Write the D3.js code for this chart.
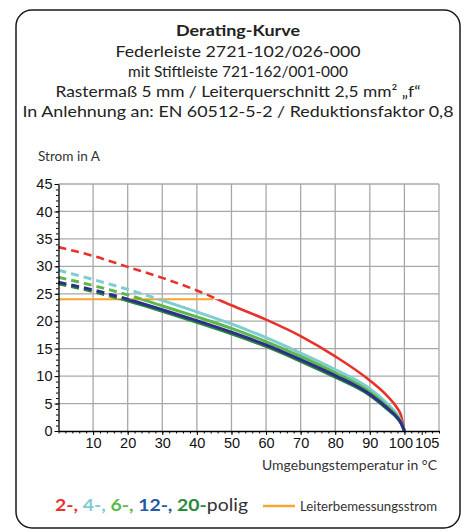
<!DOCTYPE html>
<html>
<head>
<meta charset="utf-8">
<script src="https://cdn.jsdelivr.net/npm/d3@7"></script>
<style>
body{margin:0;background:#fff;}
svg{display:block;}
</style>
</head>
<body>
<div id="chart"></div>
<script>
let temps = [0, 10, 20, 30, 40, 50, 60, 70, 80, 90, 95, 98, 99, 100]
let strom2 = [33.5, 31.9, 29.9, 27.9, 25.6, 22.9, 20.3, 17.3, 13.6, 9.2, 6.4, 4.1, 2.9, 0]
let strom4 = [29.3, 27.6, 25.8, 23.8, 21.7, 19.5, 17.0, 14.2, 11.2, 7.7, 5.0, 2.9, 1.8, 0]
let strom6 = [28.0, 26.5, 24.8, 22.8, 20.8, 18.7, 16.3, 13.6, 10.6, 7.1, 4.5, 2.6, 1.6, 0]
let strom12 = [27.1, 25.7, 24.0, 22.1, 20.1, 18.0, 15.7, 13.0, 10.1, 6.7, 4.2, 2.4, 1.5, 0]
let strom20 = [26.8, 25.4, 23.7, 21.8, 19.8, 17.7, 15.4, 12.7, 9.8, 6.5, 4.0, 2.3, 1.4, 0]

let ratedTemps = [0, 44.7]
let ratedCurrent = [24, 24]

let xTicks = [10, 20, 30, 40, 50, 60, 70, 80, 90, 100, 105]
let yTicks = [0, 5, 10, 15, 20, 25, 30, 35, 40, 45]
let xGrid = [10, 20, 30, 40, 50, 60, 70, 80, 90, 100, 110]

let titleLines = [
	'Federleiste 2721-102/026-000',
	'mit Stiftleiste 721-162/001-000',
	'Rastermaß 5 mm / Leiterquerschnitt 2,5 mm² „f“',
	'In Anlehnung an: EN 60512-5-2 / Reduktionsfaktor 0,8'
]
let titleWidths = [245, 220, 365, 431]

let series = [
	{name: '2-', values: strom2, colour: '#e8322c', width: 2.6},
	{name: '4-', values: strom4, colour: '#7fcdd3', width: 3},
	{name: '6-', values: strom6, colour: '#5cb84a', width: 3},
	{name: '20-', values: strom20, colour: '#25883a', width: 3},
	{name: '12-', values: strom12, colour: '#2e2f8c', width: 3}
]
let legendItems = [
	{text: '2-, ', colour: '#e8322c'},
	{text: '4-, ', colour: '#7fcdd3'},
	{text: '6-, ', colour: '#5cb84a'},
	{text: '12-, ', colour: '#1f5aa6'},
	{text: '20-', colour: '#2a8a3a'}
]

function drawChart(){
	let W = 467, H = 532
	let svg = d3.select('#chart').append('svg')
		.attr('width', W)
		.attr('height', H)

	let textFont = 'Lato, "Open Sans", sans-serif'
	let tickFont = '"Liberation Sans", Arial, sans-serif'

	svg.append('rect')
		.attr('x', 16).attr('y', 10)
		.attr('width', 444).attr('height', 518)
		.attr('rx', 16)
		.attr('fill', '#fff')
		.attr('stroke', '#1a1a1a')
		.attr('stroke-width', 1.5)

	svg.append('text')
		.attr('x', 238).attr('y', 35.5)
		.attr('text-anchor', 'middle')
		.attr('font-family', textFont)
		.attr('font-weight', 'bold')
		.attr('font-size', 15)
		.attr('fill', '#222')
		.attr('textLength', 124)
		.attr('lengthAdjust', 'spacingAndGlyphs')
		.text('Derating-Kurve')

	titleLines.forEach(function(t, i){
		svg.append('text')
			.attr('x', 238).attr('y', 56.5 + i * 20)
			.attr('text-anchor', 'middle')
			.attr('font-family', textFont)
			.attr('font-size', 15)
			.attr('fill', '#222')
			.attr('textLength', titleWidths[i])
			.attr('lengthAdjust', 'spacingAndGlyphs')
			.text(t)
	})

	let x = d3.scaleLinear().domain([0, 110]).range([58.5, 439])
	let y = d3.scaleLinear().domain([0, 45]).range([431, 184])

	let g = svg.append('g')

	// grid
	g.selectAll('.vgrid')
		.data(xGrid)
		.enter()
		.append('line')
		.attr('x1', d => x(d)).attr('x2', d => x(d))
		.attr('y1', y(0)).attr('y2', y(45))
		.attr('stroke', '#a8a8a8')
		.attr('stroke-width', 1.3)

	g.selectAll('.hgrid')
		.data(yTicks.filter(d => d > 0))
		.enter()
		.append('line')
		.attr('x1', x(0)).attr('x2', x(110))
		.attr('y1', d => y(d)).attr('y2', d => y(d))
		.attr('stroke', '#a8a8a8')
		.attr('stroke-width', 1.3)

	// clip areas above / below rated current
	let defs = svg.append('defs')
	defs.append('clipPath').attr('id', 'above')
		.append('rect')
		.attr('x', x(0) - 5).attr('y', y(45))
		.attr('width', x(110) - x(0) + 10).attr('height', y(24) - y(45))
	defs.append('clipPath').attr('id', 'below')
		.append('rect')
		.attr('x', x(0) - 5).attr('y', y(24))
		.attr('width', x(110) - x(0) + 10).attr('height', y(0) - y(24) + 5)

	let line = d3.line()
		.x(function(d, i){ return x(temps[i]) })
		.y(function(d){ return y(d) })
		.curve(d3.curveMonotoneX)

	g.append('path')
		.datum(ratedCurrent)
		.attr('fill', 'none')
		.attr('stroke', '#f7a52c')
		.attr('stroke-width', 1.8)
		.attr('d', d3.line()
			.x(function(d, i){ return x(ratedTemps[i]) })
			.y(function(d){ return y(d) }))

	series.forEach(function(s){
		g.append('path')
			.datum(s.values)
			.attr('fill', 'none')
			.attr('stroke', s.colour)
			.attr('stroke-width', s.width)
			.attr('stroke-dasharray', '8,5')
			.attr('clip-path', 'url(#above)')
			.attr('d', line)
		g.append('path')
			.datum(s.values)
			.attr('fill', 'none')
			.attr('stroke', s.colour)
			.attr('stroke-width', s.width)
			.attr('clip-path', 'url(#below)')
			.attr('d', line)
	})

	// axes
	let minorX = d3.range(0, 111, 2)
	let minorY = d3.range(0, 46, 1)

	let xMinor = svg.append('g')
		.attr('transform', 'translate(0,' + y(0) + ')')
		.call(d3.axisBottom(x).tickValues(minorX).tickSize(2.5).tickFormat(''))
	xMinor.select('.domain').remove()

	let yMinor = svg.append('g')
		.attr('transform', 'translate(' + x(0) + ',0)')
		.call(d3.axisLeft(y).tickValues(minorY).tickSize(2.5).tickFormat(''))
	yMinor.select('.domain').remove()

	let xAxis = svg.append('g')
		.attr('transform', 'translate(0,' + y(0) + ')')
		.call(d3.axisBottom(x).tickValues(xTicks).tickSize(4).tickSizeOuter(0).tickPadding(3))
	xAxis.select('.domain').attr('stroke', '#000').attr('stroke-width', 1.3)
	xAxis.selectAll('text')
		.attr('font-family', tickFont)
		.attr('font-size', 14.5)
		.attr('fill', '#111')
		.attr('dx', function(d){ return d == 100 ? -4 : (d == 105 ? 5 : 0) })

	let yAxis = svg.append('g')
		.attr('transform', 'translate(' + x(0) + ',0)')
		.call(d3.axisLeft(y).tickValues(yTicks).tickSize(4).tickSizeOuter(0).tickPadding(2))
	yAxis.select('.domain').attr('stroke', '#000').attr('stroke-width', 1.3)
	yAxis.selectAll('text')
		.attr('font-family', tickFont)
		.attr('font-size', 14.5)
		.attr('fill', '#111')

	svg.append('text')
		.attr('x', 38).attr('y', 160.5)
		.attr('font-family', textFont)
		.attr('font-size', 13)
		.attr('fill', '#333')
		.attr('textLength', 62)
		.attr('lengthAdjust', 'spacingAndGlyphs')
		.text('Strom in A')

	svg.append('text')
		.attr('x', 262).attr('y', 470)
		.attr('font-family', textFont)
		.attr('font-size', 13)
		.attr('fill', '#333')
		.attr('textLength', 175)
		.attr('lengthAdjust', 'spacingAndGlyphs')
		.text('Umgebungstemperatur in  °C')

	// legend
	let leg = svg.append('text')
		.attr('x', 55).attr('y', 511)
		.attr('font-family', textFont)
		.attr('font-size', 17)
		.attr('textLength', 193)
		.attr('lengthAdjust', 'spacingAndGlyphs')
	legendItems.forEach(function(l){
		leg.append('tspan')
			.attr('font-weight', 'bold')
			.attr('fill', l.colour)
			.text(l.text)
	})
	leg.append('tspan').attr('fill', '#333').text('polig')

	svg.append('line')
		.attr('x1', 263).attr('x2', 295)
		.attr('y1', 506).attr('y2', 506)
		.attr('stroke', '#f7a52c')
		.attr('stroke-width', 2.5)

	svg.append('text')
		.attr('x', 300).attr('y', 510.5)
		.attr('font-family', textFont)
		.attr('font-size', 13)
		.attr('fill', '#333')
		.attr('textLength', 137)
		.attr('lengthAdjust', 'spacingAndGlyphs')
		.text('Leiterbemessungsstrom')
}

drawChart()
</script>
</body>
</html>
